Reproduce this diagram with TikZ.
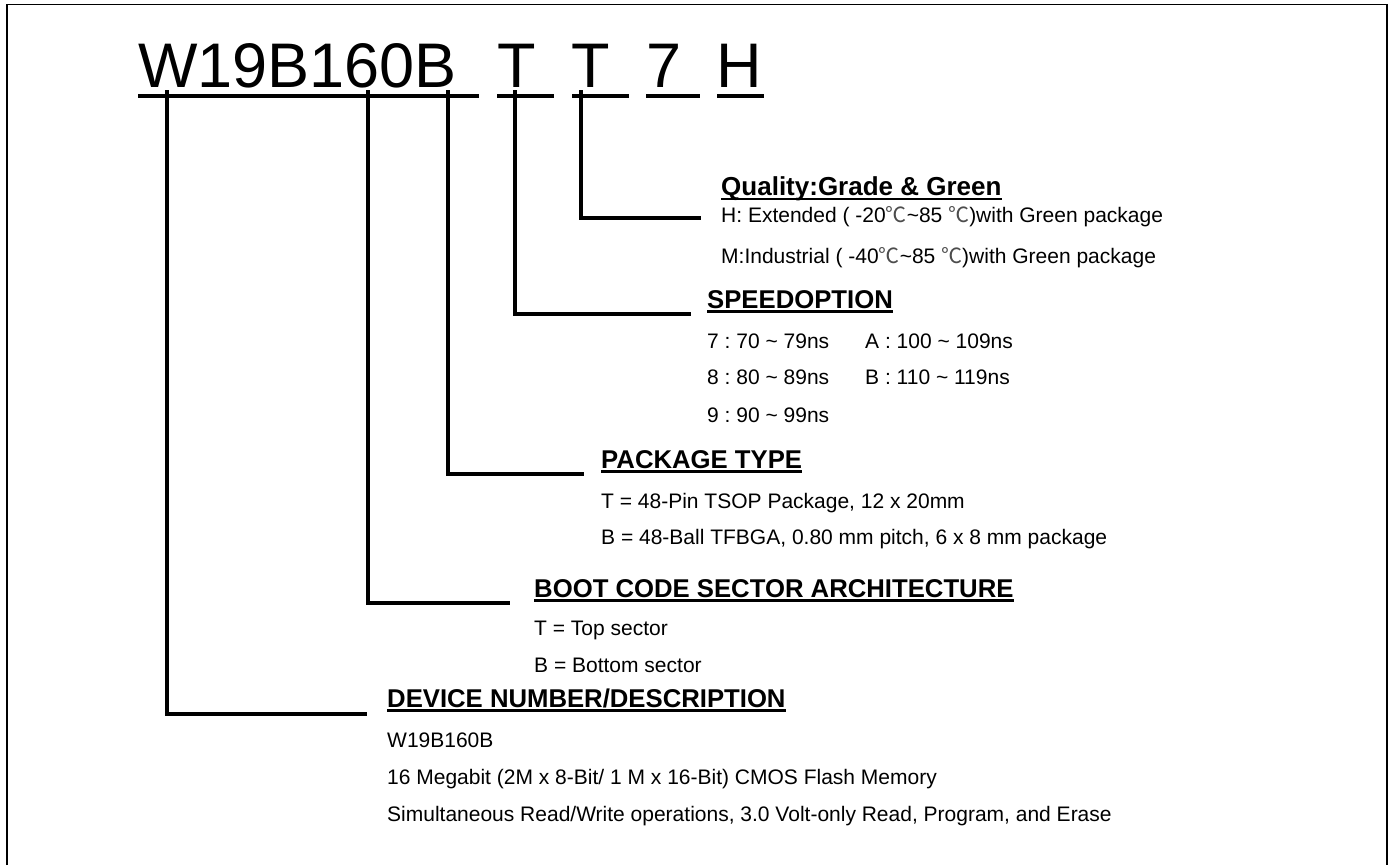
\documentclass[tikz,border=0pt]{standalone}
\usepackage{fontspec}
\setmainfont{Liberation Sans}
\newfontfamily\cjk{Noto Sans CJK SC}
\newcommand{\myDegC}{{\cjk\color{black!70}℃}}
\newcommand{\tl}{\textasciitilde}
\frenchspacing
\tikzset{
  conn/.style={line width=3.2pt, line join=miter},
  ulline/.style={line width=2.4pt},
  tulline/.style={line width=4.5pt},
  frame/.style={line width=1.6pt},
  txt/.style={anchor=base west, inner sep=0pt, font=\fontsize{21}{25}\selectfont},
  hd/.style={anchor=base west, inner sep=0pt, font=\bfseries\fontsize{25.7}{30}\selectfont},
  ttl/.style={anchor=base west, inner sep=0pt, font=\fontsize{63}{70}\selectfont}
}
\begin{document}
\begin{tikzpicture}[x=1pt,y=-1pt]
\useasboundingbox (0,0) rectangle (1392,865);
% frame (open at the bottom)
\coordinate (fa) at (7,865);
\coordinate (fb) at (7,4.5);
\coordinate (fc) at (1387,4.5);
\coordinate (fd) at (1387,865);
\draw[frame] (fa) -- (fb) -- (fc) -- (fd);

% title
\node[ttl] (t1) at (138,87) {W19B160B};
\node[ttl] (t2) at (497,87) {T};
\node[ttl] (t3) at (571,87) {T};
\node[ttl] (t4) at (646,87) {7};
\node[ttl] (t5) at (716,87) {H};
\coordinate (u1a) at (138,96); \coordinate (u1b) at (479,96);
\coordinate (u2a) at (497,96); \coordinate (u2b) at (554,96);
\coordinate (u3a) at (572,96); \coordinate (u3b) at (629,96);
\coordinate (u4a) at (646,96); \coordinate (u4b) at (700,96);
\coordinate (u5a) at (717,96); \coordinate (u5b) at (764,96);
\draw[tulline] (u1a) -- (u1b);
\draw[tulline] (u2a) -- (u2b);
\draw[tulline] (u3a) -- (u3b);
\draw[tulline] (u4a) -- (u4b);
\draw[tulline] (u5a) -- (u5b);

% connectors
\coordinate (sW) at (167,90);  \coordinate (eW) at (367,714);
\coordinate (sS) at (368,90);  \coordinate (eS) at (510,603);
\coordinate (sP) at (448,90);  \coordinate (eP) at (584,474);
\coordinate (sT) at (515,90);  \coordinate (eT) at (691,314);
\coordinate (sQ) at (581,90);  \coordinate (eQ) at (701,218);
\draw[conn] (sW) |- (eW);
\draw[conn] (sS) |- (eS);
\draw[conn] (sP) |- (eP);
\draw[conn] (sT) |- (eT);
\draw[conn] (sQ) |- (eQ);

% Quality
\node[hd, font=\bfseries\fontsize{26}{30}\selectfont] (hq) at (721,195) {Quality:Grade \& Green};
\draw[ulline] ([yshift=-4pt]hq.base west) -- ([yshift=-4pt]hq.base east);
\node[txt] (q1) at (721,222) {H: Extended ( -20\myDegC\tl 85 \myDegC)with Green package};
\node[txt] (q2) at (721,263) {M:Industrial ( -40\myDegC\tl 85 \myDegC)with Green package};

% Speed
\node[hd] (hs) at (707,308) {SPEEDOPTION};
\draw[ulline] ([yshift=-3.5pt]hs.base west) -- ([yshift=-3.5pt]hs.base east);
\node[txt] (s1) at (707,348) {7 : 70 \tl{} 79ns};
\node[txt] (s2) at (865,348) {A : 100 \tl{} 109ns};
\node[txt] (s3) at (707,384) {8 : 80 \tl{} 89ns};
\node[txt] (s4) at (865,384) {B : 110 \tl{} 119ns};
\node[txt] (s5) at (707,422) {9 : 90 \tl{} 99ns};

% Package
\node[hd] (hp) at (601,468) {PACKAGE TYPE};
\draw[ulline] ([yshift=-3.5pt]hp.base west) -- ([yshift=-3.5pt]hp.base east);
\node[txt] (p1) at (601,508) {T = 48-Pin TSOP Package, 12 x 20mm};
\node[txt] (p2) at (601,544) {B = 48-Ball TFBGA, 0.80 mm pitch, 6 x 8 mm package};

% Boot code
\node[hd] (hb) at (534,597) {BOOT CODE SECTOR ARCHITECTURE};
\draw[ulline] ([yshift=-3.5pt]hb.base west) -- ([yshift=-3.5pt]hb.base east);
\node[txt] (b1) at (534,635) {T = Top sector};
\node[txt] (b2) at (534,672) {B = Bottom sector};

% Device
\node[hd] (hd1) at (387,707) {DEVICE NUMBER/DESCRIPTION};
\draw[ulline] ([yshift=-3.5pt]hd1.base west) -- ([yshift=-3.5pt]hd1.base east);
\node[txt] (d1) at (387,747) {W19B160B};
\node[txt] (d2) at (387,784) {16 Megabit (2M x 8-Bit/ 1 M x 16-Bit) CMOS Flash Memory};
\node[txt] (d3) at (387,821) {Simultaneous Read/Write operations, 3.0 Volt-only Read, Program, and Erase};
\end{tikzpicture}
\end{document}
